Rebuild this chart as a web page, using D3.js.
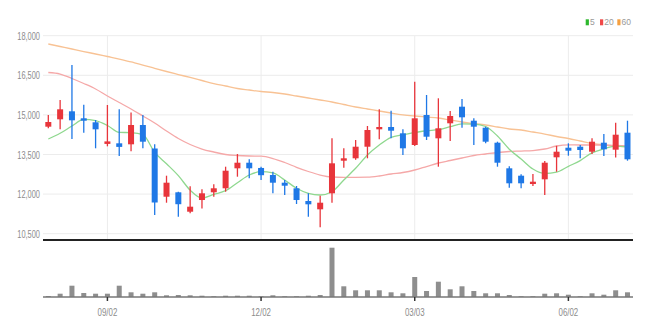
<!DOCTYPE html>
<html><head><meta charset="utf-8">
<script src="https://cdn.jsdelivr.net/npm/d3@7/dist/d3.min.js"></script>
<style>
body{margin:0;background:#fff}
svg{display:block}
text{font-family:"Liberation Sans Narrow","Arial Narrow","Liberation Sans",Arial,sans-serif}
</style>
</head><body>
<svg id="c" width="651" height="334"></svg>
<script>
// ---- data (weekly candles) ----
const dates=["07/29","08/05","08/12","08/19","08/26","09/02","09/09","09/16","09/23","09/30",
"10/07","10/14","10/21","10/28","11/04","11/11","11/18","11/25","12/02","12/09",
"12/16","12/23","12/30","01/06","01/13","01/20","01/27","02/03","02/10","02/17",
"02/24","03/03","03/10","03/17","03/24","03/31","04/07","04/14","04/21","04/28",
"05/05","05/12","05/19","05/26","06/02","06/09","06/16","06/23","06/30","07/07"];
const openV=[14553,14833,15136,14871,14720,13901,13924,13886,14617,13727,
11901,12068,11333,11776,12068,12220,12977,13189,12990,12723,
12432,12220,11738,11424,12030,13265,13356,13795,14454,14542,
14303,13860,14996,14113,14682,15311,14780,14515,13947,12977,
12697,12382,12560,13394,13757,13795,13606,13947,13682,14326];
const highV=[15000,15564,16890,15386,14807,15375,15212,15091,15000,13886,
12697,12091,12300,12185,12371,13038,13519,13318,13038,12848,
12534,12307,12030,11939,14113,13735,14049,14579,15212,15159,
14454,16258,15754,15629,15148,15602,14871,14553,13985,13053,
12750,12761,13254,13830,13924,13860,14113,14276,14704,14780];
const lowV=[14492,14454,14087,14326,13735,13810,13443,13621,13735,11208,
11674,11144,11273,11450,11901,12091,12659,12598,12534,12030,
11966,11625,11144,10742,11674,13000,13300,13356,14076,14113,
13481,13826,14049,13038,14011,14515,13860,13924,13038,12242,
12220,12307,11966,12848,13454,13356,13519,13443,13386,13265];
const closeV=[14731,15212,14795,14780,14454,13996,13788,14617,13985,11682,
12432,11617,11523,12030,12220,12886,13189,12977,12716,12432,
12318,11776,11613,11674,13166,13356,13795,14428,14542,14401,
13735,14871,14174,14492,14958,14909,14553,13985,13189,12409,
12409,12470,13189,13606,13644,13670,13985,13697,14250,13318];
const volumeV=[10,33,113,40,33,33,113,47,33,47,
17,20,17,13,7,13,13,13,7,17,
7,7,13,20,493,107,67,67,67,47,
37,200,60,153,77,107,60,37,37,20,
7,7,33,37,23,7,37,23,67,47];
const ma5=[14087,14303,14579,14830,14780,14600,14340,14326,14250,13580,
13150,12700,12150,11850,11990,12129,12432,12723,12848,12800,
12534,12220,12030,11966,12091,12534,12977,13481,13860,14151,
14250,14330,14400,14440,14553,14660,14650,14560,14200,13700,
13330,12950,12780,12830,13050,13270,13560,13710,13820,13790];
const ma20=[16606,16549,16379,16189,15981,15716,15470,15223,14958,14693,
14390,14106,13879,13708,13595,13500,13462,13443,13435,13348,
13197,13015,12856,12723,12648,12636,12636,12640,12685,12761,
12818,12913,13045,13178,13273,13367,13462,13519,13576,13614,
13630,13650,13708,13822,13867,13860,13860,13860,13841,13822];
const ma60=[17686,17591,17496,17401,17307,17212,17117,17004,16890,16765,
16644,16530,16417,16303,16189,16095,16000,15943,15886,15848,
15792,15716,15640,15564,15489,15394,15299,15223,15148,15072,
15004,14958,14920,14882,14807,14731,14674,14617,14542,14466,
14428,14352,14276,14182,14106,14011,13917,13860,13822,13795];
const yTicks=[10500,12000,13500,15000,16500,18000];
const xTickLabels=["09/02","12/02","03/03","06/02"];
const legendLabels=["5","20","60"];

// ---- drawing ----
const svg=d3.select("#c");
const L=43, R=633, priceBottom=240, volBase=297;
const x=d3.scaleBand().domain(dates).range([42.4,633.4]).padding(0);
const cx=d=>x(d)+x.bandwidth()/2;
const y=d3.scaleLinear().domain([10500,18000]).range([233.7,35.7]);
const yv=d3.scaleLinear().domain([0,500]).range([volBase,247]);

const up="#e8353b", down="#1f78e6";
const maColors=["#8fd88f","#f5a8a8","#f8c294"];
const legendColors=["#2db82d","#f04848","#f5a040"];

// grid
svg.append("g").selectAll("line").data(yTicks).join("line")
  .attr("x1",L).attr("x2",R).attr("y1",d=>y(d)).attr("y2",d=>y(d))
  .attr("stroke","#ececec").attr("stroke-width",1);
svg.append("g").selectAll("line").data(xTickLabels).join("line")
  .attr("x1",d=>cx(d)).attr("x2",d=>cx(d)).attr("y1",y(18000)).attr("y2",priceBottom)
  .attr("stroke","#ececec").attr("stroke-width",1);

// y axis
const ya=svg.append("g").attr("transform",`translate(${L},0)`)
  .call(d3.axisLeft(y).tickValues(yTicks).tickSize(0).tickPadding(3).tickFormat(d3.format(",")));
ya.select(".domain").remove();
ya.selectAll("text").attr("fill","#8c8c8c").attr("font-size",11)
  .attr("textLength",22.7).attr("lengthAdjust","spacingAndGlyphs");

// MA lines
const line=d3.line().x((d,i)=>cx(dates[i])).y(d=>y(d)).curve(d3.curveMonotoneX);
[ma60,ma20,ma5].forEach((s,k)=>{
  svg.append("path").attr("d",line(s)).attr("fill","none")
    .attr("stroke",maColors[2-k]).attr("stroke-width",1.3);
});

// candles
const cg=svg.append("g");
dates.forEach((d,i)=>{
  const o=openV[i],c=closeV[i],h=highV[i],l=lowV[i];
  const col=c>=o?up:down;
  cg.append("line").attr("x1",cx(d)).attr("x2",cx(d)).attr("y1",y(h)).attr("y2",y(l))
    .attr("stroke",col).attr("stroke-width",1.3);
  const top=y(Math.max(o,c)), bot=y(Math.min(o,c));
  cg.append("rect").attr("x",cx(d)-3).attr("width",6)
    .attr("y",top).attr("height",Math.max(1.5,bot-top)).attr("fill",col);
});

// price bottom line
svg.append("line").attr("x1",L).attr("x2",R).attr("y1",priceBottom).attr("y2",priceBottom)
  .attr("stroke","#222").attr("stroke-width",2);

// volume bars
svg.append("g").selectAll("rect").data(volumeV).join("rect")
  .attr("x",(d,i)=>cx(dates[i])-2.5).attr("width",5)
  .attr("y",d=>yv(d)).attr("height",d=>volBase-yv(d)).attr("fill","#8e8e8e");
svg.append("line").attr("x1",L).attr("x2",R).attr("y1",volBase).attr("y2",volBase)
  .attr("stroke","#777").attr("stroke-width",1.5);

// x axis
const xa=svg.append("g").attr("transform",`translate(0,${volBase})`)
  .call(d3.axisBottom(x).tickValues(xTickLabels).tickSize(4).tickPadding(7));
xa.select(".domain").remove();
xa.selectAll(".tick line").attr("stroke","#333").attr("stroke-width",1.5);
xa.selectAll("text").attr("fill","#8c8c8c").attr("font-size",11)
  .attr("textLength",19.7).attr("lengthAdjust","spacingAndGlyphs");

// legend
const lg=svg.append("g");
const lx=[585.7,600,617.3];
legendLabels.forEach((t,i)=>{
  lg.append("rect").attr("x",lx[i]).attr("y",19.3).attr("width",3.2).attr("height",6)
    .attr("fill",legendColors[i]);
  lg.append("text").attr("x",lx[i]+4.2).attr("y",25.4).text(t)
    .attr("font-size",8.5).attr("fill","#9a9a9a");
});
</script>
</body></html>
